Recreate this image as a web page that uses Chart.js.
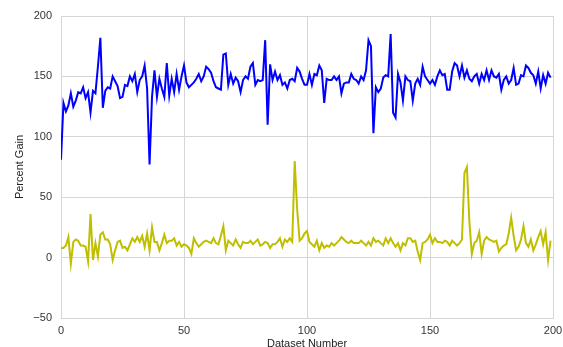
<!DOCTYPE html>
<html lang="en">
<head>
  <meta charset="UTF-8">
  <title>Percent Gain by Dataset</title>
  <script src="https://cdn.jsdelivr.net/npm/chart.js"></script>
  <style>
    html, body { margin: 0; padding: 0; background: #fff; }
    canvas { display: block; }
  </style>
</head>
<body>
  <canvas id="gainChart" width="563" height="347"></canvas>
  <script>
    // Percent gain per dataset, two runs
    const highRun = [
      81, 128, 121, 126, 136, 125, 130, 137, 136, 141,
      132, 137, 120, 138, 136, 158, 182, 124, 138, 141,
      140, 150, 146, 142, 132, 133, 143, 142, 150, 146,
      152, 137, 147, 150, 159, 140, 77, 133, 155, 133,
      148, 140, 133, 161, 134, 148, 137, 152, 139, 150,
      159, 145, 141, 143, 145, 148, 152, 146, 150, 158,
      156, 153, 146, 141, 140, 139, 168, 169, 143, 152,
      144, 149, 146, 137, 147, 150, 148, 158, 161, 143,
      147, 146, 147, 180, 110, 160, 147, 154, 147, 151,
      143, 145, 140, 147, 148, 146, 157, 154, 148, 143,
      143, 152, 143, 152, 151, 159, 155, 128, 148, 147,
      147, 150, 147, 150, 136, 144, 145, 145, 152, 148,
      147, 144, 150, 147, 155, 180, 175, 103, 141, 137,
      140, 149, 151, 150, 185, 120, 116, 152, 145, 130,
      150, 147, 146, 130, 144, 148, 143, 158, 150, 147,
      144, 147, 143, 150, 155, 151, 152, 139, 139, 154,
      161, 159, 150, 159, 149, 155, 148, 146, 150, 152,
      144, 152, 147, 155, 147, 155, 150, 149, 152, 139,
      147, 150, 144, 147, 157, 143, 144, 151, 150, 159,
      157, 153, 151, 144, 154, 140, 151, 144, 153, 149
    ];
    const lowRun = [
      8, 8, 10, 17, -5, 13, 15, 14, 10, 10,
      9, -3, 36, -2, 12, 1, 19, 21, 15, 15,
      11, -2, 6, 13, 14, 8, 9, 6, 11, 16,
      13, 17, 13, 18, 9, 20, 6, 25, 13, 13,
      6, 12, 19, 12, 14, 14, 16, 10, 13, 9,
      11, 10, 8, 3, 16, 12, 9, 11, 13, 14,
      13, 12, 16, 12, 11, 18, 26, 6, 14, 12,
      10, 15, 11, 8, 13, 12, 12, 14, 11, 13,
      15, 10, 11, 13, 12, 8, 11, 11, 13, 16,
      9, 15, 13, 16, 13, 80, 40, 14, 16, 20,
      22, 13, 11, 9, 14, 6, 12, 8, 10, 9,
      12, 10, 12, 14, 17, 15, 13, 12, 14, 12,
      12, 12, 14, 12, 10, 13, 10, 16, 13, 14,
      12, 10, 16, 12, 16, 12, 9, 12, 6, 12,
      10, 16, 16, 13, 14, 5, -2, 12, 13, 15,
      19, 12, 16, 13, 13, 12, 14, 13, 10, 14,
      12, 10, 12, 15, 70, 75, 30, 3, 12, 14,
      21, 3, 14, 17, 15, 14, 13, 14, 5, 8,
      10, 11, 20, 33, 18, 6, 9, 15, 26, 12,
      9, 15, 6, 11, 17, 22, 11, 21, -2, 14
    ];
    const xTicks = [0, 50, 100, 150, 200];
    const yTicks = [-50, 0, 50, 100, 150, 200];

    const toPoints = arr => arr.map((v, i) => ({ x: i, y: v }));
    const fontFamily = '"Liberation Sans", Arial, sans-serif';
    const gridColor = '#d6d6d6';

    const ctx = document.getElementById('gainChart').getContext('2d');
    new Chart(ctx, {
      type: 'line',
      data: {
        datasets: [
          { data: toPoints(highRun), borderColor: '#0000ff', borderWidth: 2 },
          { data: toPoints(lowRun), borderColor: '#bfbf00', borderWidth: 2 }
        ]
      },
      options: {
        responsive: false,
        animation: false,
        devicePixelRatio: 1,
        layout: { padding: { left: 0, right: 0, top: 16, bottom: 0 } },
        elements: { point: { radius: 0 }, line: { tension: 0, fill: false } },
        plugins: { legend: { display: false }, tooltip: { enabled: false } },
        scales: {
          x: {
            type: 'linear',
            min: xTicks[0],
            max: xTicks[xTicks.length - 1],
            afterBuildTicks: s => { s.ticks = xTicks.map(v => ({ value: v })); },
            afterFit: s => { s.height = 29; s.paddingRight = 10; },
            grid: { color: gridColor, drawTicks: false },
            border: { color: gridColor },
            ticks: { color: '#333', padding: 6, maxRotation: 0, font: { family: fontFamily, size: 11 } },
            title: {
              display: true, text: 'Dataset Number', color: '#222',
              font: { family: fontFamily, size: 11 }, padding: { top: 0, bottom: -4 }
            }
          },
          y: {
            min: yTicks[0],
            max: yTicks[yTicks.length - 1],
            afterBuildTicks: s => { s.ticks = yTicks.map(v => ({ value: v })); },
            afterFit: s => { s.width = 61; },
            grid: { color: gridColor, drawTicks: false },
            border: { color: gridColor },
            ticks: {
              color: '#333', padding: 9, font: { family: fontFamily, size: 11 },
              callback: v => v < 0 ? '\u2212' + Math.abs(v) : String(v)
            },
            title: {
              display: true, text: 'Percent Gain', color: '#222',
              font: { family: fontFamily, size: 11 }, padding: { top: 13, bottom: 0 }
            }
          }
        }
      }
    });
  </script>
</body>
</html>
